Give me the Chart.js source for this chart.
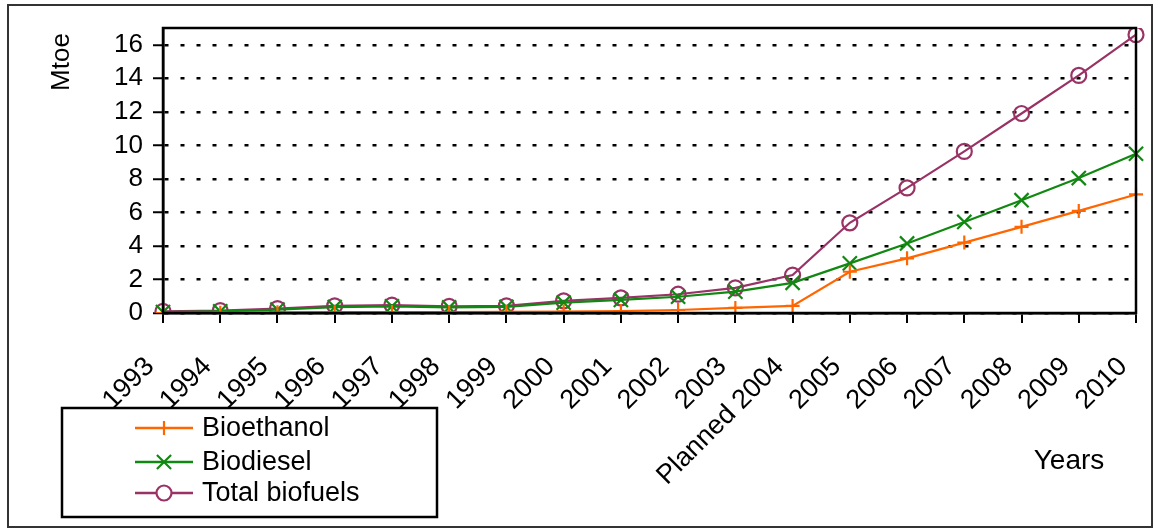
<!DOCTYPE html>
<html><head><meta charset="utf-8">
<script src="https://cdn.jsdelivr.net/npm/chart.js@4/dist/chart.umd.min.js"></script>
<style>html,body{margin:0;padding:0;background:#fff}canvas{display:block}</style>
</head><body>
<canvas id="c" width="1161" height="530"></canvas>
<script>
const years = ['1993','1994','1995','1996','1997','1998','1999','2000','2001','2002','2003','Planned 2004','2005','2006','2007','2008','2009','2010'];
const bioethanol = [0.0, 0.02, 0.04, 0.05, 0.06, 0.06, 0.07, 0.09, 0.12, 0.18, 0.3, 0.42, 2.46, 3.26, 4.2, 5.14, 6.09, 7.07];
const biodiesel = [0.05, 0.1, 0.2, 0.35, 0.4, 0.33, 0.36, 0.62, 0.78, 0.97, 1.27, 1.8, 2.96, 4.15, 5.43, 6.73, 8.05, 9.5];
const totalBiofuels = [0.1, 0.14, 0.26, 0.43, 0.47, 0.4, 0.43, 0.72, 0.9, 1.12, 1.5, 2.26, 5.38, 7.46, 9.64, 11.9, 14.17, 16.6];
const yTicks = [0, 2, 4, 6, 8, 10, 12, 14, 16];
const seriesNames = ['Bioethanol', 'Biodiesel', 'Total biofuels'];
const yTitle = 'Mtoe';
const xTitle = 'Years';

const F = '"Liberation Sans", Arial, Helvetica, sans-serif';
const COLORS = ['#ff6600', '#118811', '#993366'];
const STYLES = ['cross', 'crossRot', 'circle'];
const RADII = [7, 10, 7.5];

const decor = {
  id: 'decor',
  afterDraw(chart) {
    const ctx = chart.ctx, a = chart.chartArea;
    ctx.save();
    ctx.setLineDash([]);
    // plot frame
    ctx.strokeStyle = '#000'; ctx.lineWidth = 2.5;
    ctx.strokeRect(a.left, a.top, a.right - a.left, a.bottom - a.top);
    // outer frame
    ctx.strokeStyle = '#333'; ctx.lineWidth = 2;
    ctx.strokeRect(8, 5, 1144, 522);
    // y title
    ctx.fillStyle = '#000';
    ctx.font = '26px ' + F;
    ctx.textAlign = 'center'; ctx.textBaseline = 'middle';
    ctx.save(); ctx.translate(62, 62); ctx.rotate(-Math.PI / 2); ctx.fillText(yTitle, 0, 0); ctx.restore();
    // x title
    ctx.font = '28px ' + F;
    ctx.fillText(xTitle, 1069, 461);
    // legend
    const lx = 62, ly = 408, lw = 375, lh = 109;
    ctx.lineWidth = 2.5; ctx.strokeStyle = '#000';
    ctx.strokeRect(lx, ly, lw, lh);
    const rows = [428, 462, 493];
    chart.data.datasets.forEach((ds, i) => {
      const y = rows[i];
      ctx.strokeStyle = ds.borderColor; ctx.lineWidth = 2.5;
      ctx.beginPath(); ctx.moveTo(135, y); ctx.lineTo(193, y); ctx.stroke();
      ctx.lineWidth = 2.2;
      ctx.fillStyle = '#fff';
      Chart.helpers.drawPoint(ctx, {pointStyle: ds.pointStyle, radius: ds.pointRadius, borderWidth: 2.2, rotation: 0}, 164, y);
      ctx.fillStyle = '#000'; ctx.font = '27px ' + F; ctx.textAlign = 'left'; ctx.textBaseline = 'middle';
      ctx.fillText(ds.label, 202, y + 1);
    });
    ctx.restore();
  }
};

const seriesData = [bioethanol, biodiesel, totalBiofuels];
new Chart(document.getElementById('c'), {
  type: 'line',
  data: {
    labels: years,
    datasets: seriesData.map((d, i) => ({
      label: seriesNames[i], data: d,
      borderColor: COLORS[i], backgroundColor: 'rgba(255,255,255,0)',
      pointBorderColor: COLORS[i], pointBackgroundColor: 'rgba(255,255,255,0)',
      borderWidth: 2.2, pointBorderWidth: 2.2, pointStyle: STYLES[i], pointRadius: RADII[i],
      tension: 0, fill: false
    }))
  },
  options: {
    responsive: false, animation: false,
    layout: {padding: {left: 10, top: 28, right: 25, bottom: 0}},
    plugins: {legend: {display: false}, tooltip: {enabled: false}},
    scales: {
      x: {
        type: 'category', offset: false,
        grid: {drawOnChartArea: false, drawTicks: true, tickLength: 10, color: '#000', lineWidth: 2},
        border: {color: '#000', width: 2.5},
        ticks: {autoSkip: false, minRotation: 45, maxRotation: 45, color: '#000', font: {size: 27, family: F}, padding: 28, labelOffset: -13},
        afterFit(s) { s.height = 530 - 313; s.paddingLeft = 0; s.paddingRight = 0; }
      },
      y: {
        min: 0, max: 17,
        afterBuildTicks(s) { s.ticks = yTicks.map(v => ({value: v})); },
        grid: {color: '#000', lineWidth: 2.5, tickBorderDash: [], tickLength: 10, tickColor: '#000', tickWidth: 2},
        border: {color: '#000', width: 2.5, dash: [4, 12]},
        ticks: {color: '#000', font: {size: 26, family: F}, padding: 10},
        afterFit(s) { s.width = 163 - 10; s.paddingTop = 0; s.paddingBottom = 0; }
      }
    }
  },
  plugins: [decor]
});
</script>
</body></html>
